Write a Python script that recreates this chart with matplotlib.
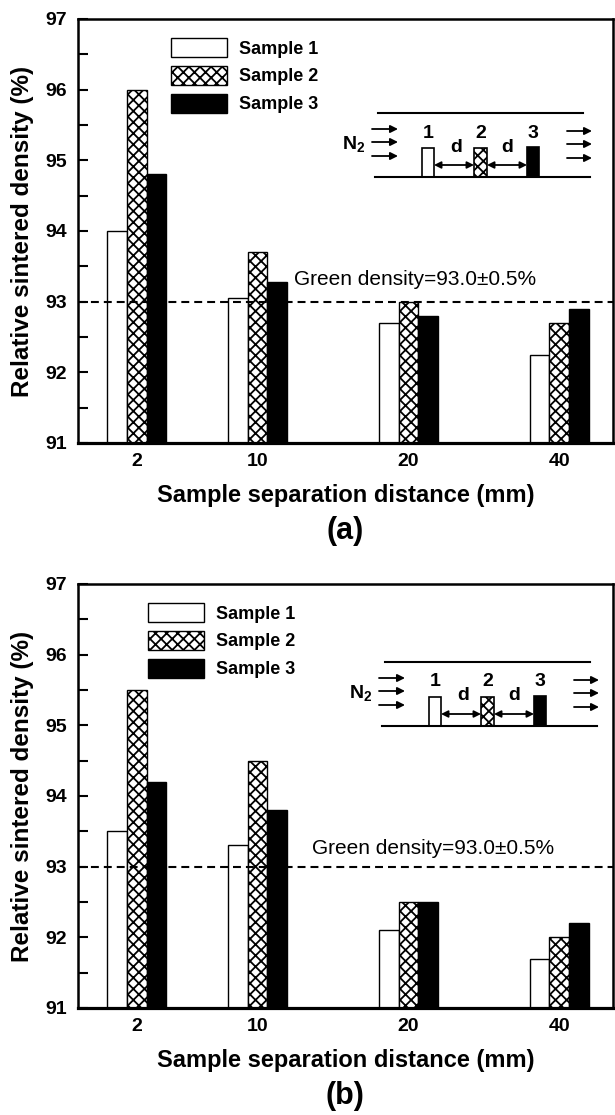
import matplotlib
matplotlib.use("Agg")
import matplotlib.pyplot as plt
from matplotlib.patches import Rectangle

plt.rcParams['font.family'] = ['Liberation Sans', 'DejaVu Sans']
plt.rcParams['mathtext.fontset'] = 'custom'
plt.rcParams['mathtext.rm'] = 'Liberation Sans'
plt.rcParams['mathtext.bf'] = 'Liberation Sans:bold'
plt.rcParams['hatch.linewidth'] = 1.3

# data
distances = ['2', '10', '20', '40']
samples = ['Sample 1', 'Sample 2', 'Sample 3']

a_sample1 = [94.0, 93.05, 92.7, 92.25]
a_sample2 = [96.0, 93.7, 93.0, 92.7]
a_sample3 = [94.8, 93.28, 92.8, 92.9]

b_sample1 = [93.5, 93.3, 92.1, 91.7]
b_sample2 = [95.5, 94.5, 92.5, 92.0]
b_sample3 = [94.2, 93.8, 92.5, 92.2]

green_density = 93.0
green_text = 'Green density=93.0\u00b10.5%'

# layout
W, H = 615, 1115
group_pos = [0, 0.8, 1.8, 2.8]
bar_w = 0.13
styles = [dict(facecolor='white', hatch=None),
          dict(facecolor='white', hatch='xxx'),
          dict(facecolor='black', hatch=None)]


def fx(px):
    return px / W


def fy(py):
    return 1 - py / H


def draw_cell(fig, x0, y0):
    # little schematic of the three samples in the gas flow, in pixel units
    ax = fig.add_axes([fx(x0 - 60), fy(y0 + 75), 300 / W, 90 / H])
    ax.set_xlim(-60, 240)
    ax.set_ylim(75, -15)
    ax.axis('off')
    ax.plot([0, 205], [0, 0], color='black', lw=1.5)
    ax.plot([-3, 212], [64, 64], color='black', lw=1.5)
    arrow = dict(arrowstyle='-|>', color='black', lw=1.3, mutation_scale=11,
                 shrinkA=0, shrinkB=0)
    for yy in [16, 29, 43]:
        ax.annotate('', xy=(20, yy), xytext=(-6, yy), arrowprops=arrow)
    for yy in [18, 31, 45]:
        ax.annotate('', xy=(214, yy), xytext=(189, yy), arrowprops=arrow)
    ax.text(-13, 31, r'$\mathbf{N_2}$', ha='right', va='center', fontsize=14)
    boxes = [(44, 35, 12), (96, 35, 13), (149, 34, 12)]
    for (bx, by, bw), st, lab in zip(boxes, styles, ['1', '2', '3']):
        ax.add_patch(Rectangle((bx, by), bw, 64 - by, edgecolor='black', lw=1.2,
                               **st))
        ax.text(bx + bw / 2, 20, lab, ha='center', va='center', fontsize=14,
                fontweight='bold')
    darrow = dict(arrowstyle='<|-|>', color='black', lw=1.3, mutation_scale=10,
                  shrinkA=0, shrinkB=0)
    ax.annotate('', xy=(96, 52), xytext=(56, 52), arrowprops=darrow)
    ax.annotate('', xy=(149, 52), xytext=(109, 52), arrowprops=darrow)
    ax.text(78, 34, 'd', ha='center', va='center', fontsize=14, fontweight='bold')
    ax.text(129, 34, 'd', ha='center', va='center', fontsize=14, fontweight='bold')


def draw_panel(fig, top_px, values, legend_x, text_xy, tag, cell_xy):
    ax = fig.add_axes([fx(78), fy(top_px + 424), 535 / W, 424 / H])
    for i, (vals, st, name) in enumerate(zip(values, styles, samples)):
        xs = [p + (i - 1) * bar_w for p in group_pos]
        heights = [v - 91 for v in vals]
        ax.bar(xs, heights, bar_w, bottom=91, edgecolor='black', linewidth=1.0,
               label=name, **st)
    ax.axhline(green_density, color='black', lw=1.5, ls=(0, (3.8, 2.4)))
    ax.text(text_xy[0], text_xy[1], green_text, fontsize=15, va='baseline')

    ax.set_xlim(-0.39, 3.157)
    ax.set_ylim(91, 97)
    ax.set_xticks(group_pos)
    ax.set_xticklabels(distances, fontsize=14, fontweight='bold')
    ax.tick_params(axis='x', length=0, pad=7)
    ax.set_yticks(range(91, 98))
    ax.set_yticks([91.5 + k for k in range(6)], minor=True)
    ax.set_yticklabels([str(v) for v in range(91, 98)], fontsize=14,
                       fontweight='bold')
    ax.tick_params(axis='y', which='both', direction='in', length=7, width=1.5,
                   pad=8)
    for s in ax.spines.values():
        s.set_linewidth(1.8)
    ax.spines['bottom'].set_linewidth(2.3)

    ax.set_xlabel('Sample separation distance (mm)', fontsize=17,
                  fontweight='bold', labelpad=10)
    ax.set_ylabel('Relative sintered density (%)', fontsize=17.5,
                  fontweight='bold', labelpad=8)

    ax.legend(loc='upper left', bbox_to_anchor=(legend_x, 0.955), frameon=False,
              prop=dict(weight='bold', size=13), handlelength=3.1,
              handleheight=1.25, handletextpad=0.65, labelspacing=0.45,
              borderpad=0, borderaxespad=0)

    fig.text(fx(345), fy(top_px + 512), tag, fontsize=22, fontweight='bold',
             ha='center', va='center')
    draw_cell(fig, *cell_xy)
    return ax


fig = plt.figure(figsize=(W / 100, H / 100), dpi=100)
draw_panel(fig, 19, [a_sample1, a_sample2, a_sample3], 0.174, (1.04, 93.24),
           '(a)', (378, 113))
draw_panel(fig, 584, [b_sample1, b_sample2, b_sample3], 0.131, (1.16, 93.18),
           '(b)', (385, 662))

fig.savefig('out.png', dpi=100)
